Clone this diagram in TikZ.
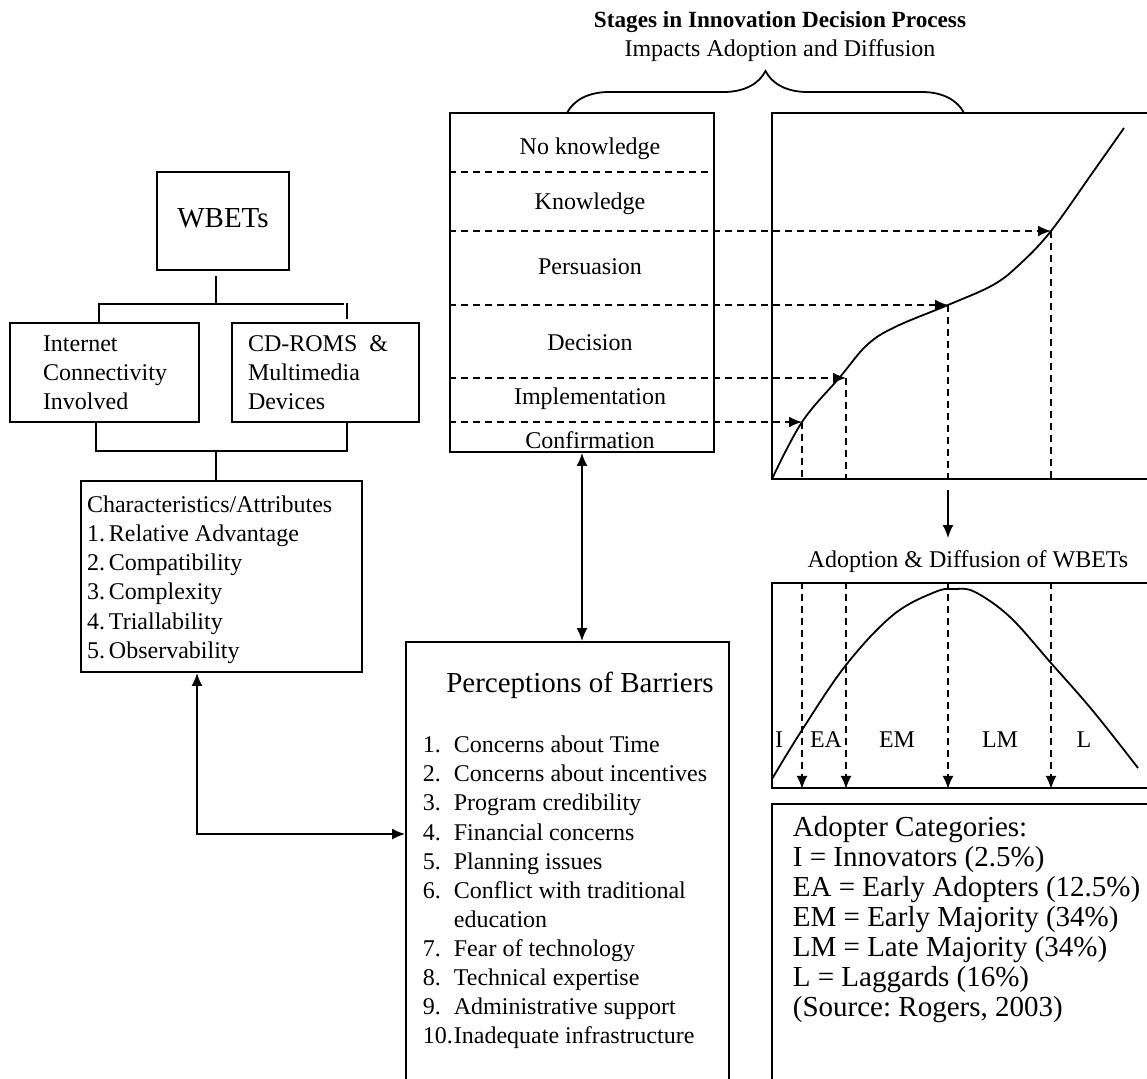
\documentclass[tikz,border=0pt]{standalone}
\usepackage{fontspec}
\setmainfont{Liberation Serif}
\usetikzlibrary{arrows.meta}
\usetikzlibrary{calc}
\usetikzlibrary{decorations.pathreplacing}
\tikzset{>={Latex[length=6.5pt,width=5.5pt]}}
\frenchspacing
\newcommand{\txt}{\fontsize{12}{14.5}\selectfont}
\newcommand{\bigtxt}{\fontsize{14.5}{15}\selectfont}
\tikzstyle{boxed}=[draw,line width=0.9pt,inner sep=0pt]
\tikzstyle{txtnode}=[inner sep=0pt,font=\txt,align=left,anchor=west]
\tikzstyle{dashline}=[line width=0.9pt,dash pattern=on 3.5pt off 2.5pt]

\begin{document}
\begin{tikzpicture}[x=0.5pt,y=-0.5pt,line width=0.9pt]
  \useasboundingbox (0,0) rectangle (1147,1078);
  \clip (0,0) rectangle (1147,1078);

  % heading with brace
  \node[align=center,font=\txt] (heading) at (780,36)
    {{\fontsize{11.6}{14.5}\selectfont\bfseries Stages in Innovation Decision Process}\\Impacts Adoption and Diffusion};
  \draw[decorate,decoration={brace,amplitude=21pt}] (567,113) -- (964,113);

  % WBETs tree
  \node[boxed,minimum width=66pt,minimum height=49pt,font=\bigtxt] (wbets) at (223,221) {\raisebox{3pt}{WBETs}};
  \node[boxed,minimum width=94.5pt,minimum height=49.5pt] (internet) at (104.5,372.5) {};
  \node[txtnode] (internettxt) at ([xshift=16.5pt]internet.west) {Internet\\Connectivity\\Involved};
  \node[boxed,minimum width=93.5pt,minimum height=49.5pt] (cdrom) at (325.5,372.5) {};
  \node[txtnode] (cdromtxt) at ([xshift=8pt]cdrom.west) {CD-ROMS\ \ \&\\Multimedia\\Devices};
  \node[boxed,minimum width=140.5pt,minimum height=95.5pt] (chars) at (221.5,576.5) {};
  \node[txtnode,font=\fontsize{12}{14.6}\selectfont] (charstxt) at ([xshift=3pt,yshift=-1.5pt]chars.west)
    {Characteristics/Attributes\\
     \makebox[11pt][l]{1.}Relative Advantage\\
     \makebox[11pt][l]{2.}Compatibility\\
     \makebox[11pt][l]{3.}Complexity\\
     \makebox[11pt][l]{4.}Triallability\\
     \makebox[11pt][l]{5.}Observability};

  \coordinate (tjoin) at (216,304);
  \coordinate (tleft) at (99,304);
  \coordinate (bleft) at (96,451);
  \coordinate (bright) at (347,451);
  \coordinate (bjoin) at (216,451);
  \draw ([xshift=-3.5pt,yshift=-2.5pt]wbets.south) -- (tjoin);
  \draw (internet.north -| tleft) -- (tleft) -- (344,304);
  \draw (347,303) -- (347,319);
  \draw (internet.south -| bleft) -- (bleft) -- (bright) -- (cdrom.south -| bright);
  \draw (bjoin) -- (chars.north -| bjoin);

  % stages of the decision process
  \node[boxed,minimum width=132pt,minimum height=169.5pt] (stages) at (582,282.5) {};
  \foreach \y/\t in {149/No knowledge,204/Knowledge,267/Persuasion,343/Decision,399/Implementation,440/Confirmation}
    \node[font=\txt] (stage\y) at (590,\y) {\t};
  \draw[dashline] (stages.west |- 0,172) -- (stages.east |- 0,172);

  % S-curve
  \node[boxed,minimum width=199pt,minimum height=183pt] (sgraph) at (971,296) {};
  \draw plot[smooth,tension=0.6] coordinates {(772,479) (802,422) (840,377) (867,345) (895,327)
    (948,305) (993,285) (1020,264) (1051,231) (1093,172) (1124,128)};
  \coordinate (c1) at (802,422);
  \coordinate (c2) at (846,378);
  \coordinate (c3) at (948,305);
  \coordinate (c4) at (1051,231);
  \foreach \c in {c1,c2,c3,c4} {
    \draw[dashline,->] (stages.west |- \c) -- (\c);
    \draw[dashline] (\c) -- (\c |- sgraph.south);
  }
  \draw[->] (c3 |- 0,490) -- (c3 |- 0,538);

  % bell curve
  \node[font=\txt] (belltitle) at (968,562) {Adoption \& Diffusion of WBETs};
  \node[boxed,minimum width=199pt,minimum height=102.5pt] (bell) at (971,685.5) {};
  \draw plot[smooth,tension=0.6] coordinates {(772,779) (802,730) (846,665) (893,615) (935,592)
    (955,589) (975,592) (1010,617) (1051,663) (1093,711) (1138,768)};
  \foreach \c in {c1,c2,c3,c4}
    \draw[dashline,->] (\c |- bell.north) -- (\c |- bell.south);
  \foreach \x/\t in {779/I,826/EA,897/EM,1000/LM,1084/L}
    \node[font=\txt] (cat\t) at (\x,740) {\t};

  % adopter categories
  \node[boxed,minimum width=199pt,minimum height=148pt] (adopt) at (971,952) {};
  \node[txtnode,font=\fontsize{14.5}{15}\selectfont] (adopttxt) at (792,920)
    {Adopter Categories:\\
     I = Innovators (2.5\%)\\
     EA = Early Adopters (12.5\%)\\
     EM = Early Majority (34\%)\\
     LM = Late Majority (34\%)\\
     L = Laggards (16\%)\\
     (Source: Rogers, 2003)};

  % barriers
  \node[boxed,minimum width=161.5pt,minimum height=229pt] (barriers) at (567.5,871) {};
  \node[font=\bigtxt] (bartitle) at (580,685) {Perceptions of Barriers};
  \node[txtnode,font=\fontsize{12}{14.55}\selectfont] (barlist) at (422,892.5)
    {\makebox[15.5pt][l]{1.}Concerns about Time\\
     \makebox[15.5pt][l]{2.}Concerns about incentives\\
     \makebox[15.5pt][l]{3.}Program credibility\\
     \makebox[15.5pt][l]{4.}Financial concerns\\
     \makebox[15.5pt][l]{5.}Planning issues\\
     \makebox[15.5pt][l]{6.}Conflict with traditional\\
     \hspace*{15.5pt}education\\
     \makebox[15.5pt][l]{7.}Fear of technology\\
     \makebox[15.5pt][l]{8.}Technical expertise\\
     \makebox[15.5pt][l]{9.}Administrative support\\
     \makebox[15.5pt][l]{10.}Inadequate infrastructure};

  % two-way links
  \coordinate (elbow) at (197,834);
  \draw[<->] (stages.south) -- (stages.south |- barriers.north);
  \draw[<->] (chars.south -| elbow) -- (elbow) -- (elbow -| barriers.west);
\end{tikzpicture}
\end{document}
